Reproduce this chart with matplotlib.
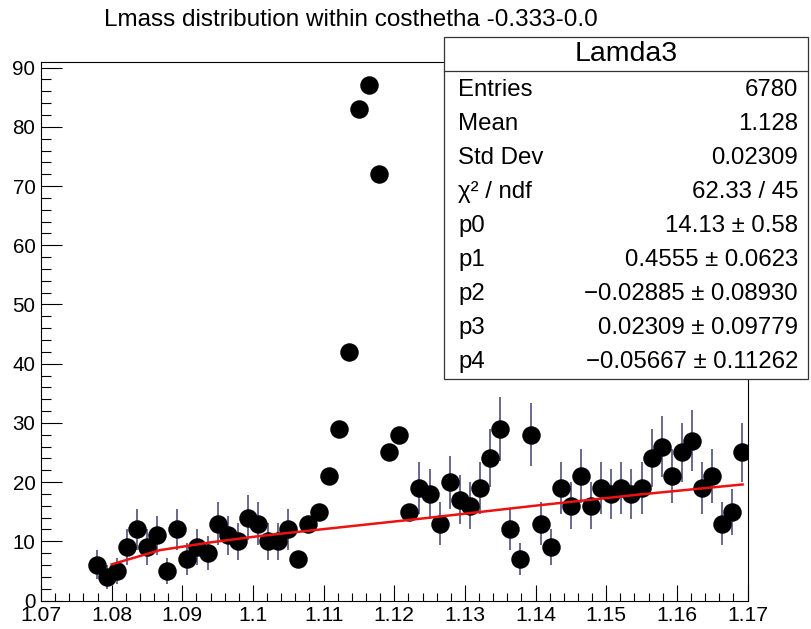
import matplotlib
matplotlib.use("Agg")
import matplotlib.pyplot as plt
import numpy as np
from matplotlib.patches import Rectangle
from matplotlib.ticker import FuncFormatter, MultipleLocator
from matplotlib.transforms import ScaledTranslation

# Histogram binning: 70 bins over the axis range, the first 5 bins are empty
X_LO = 1.07
X_HI = 1.17
N_BINS = 70
FIRST_FILLED_BIN = 5

# bin contents (bins 5..69)
COUNTS = [6, 4, 5, 9, 12, 9, 11, 5, 12, 7,
          9, 8, 13, 11, 10, 14, 13, 10, 10, 12,
          7, 13, 15, 21, 29, 42, 83, 87, 72, 25,
          28, 15, 19, 18, 13, 20, 17, 16, 19, 24,
          29, 12, 7, 28, 13, 9, 19, 16, 21, 16,
          19, 18, 19, 18, 19, 24, 26, 21, 25, 27,
          19, 21, 13, 15, 25]

# signal region left out of the fit, drawn without error bars
PEAK_WINDOW = (1.1058, 1.1228)

# background fit curve
FIT_X = [1.0800, 1.0868, 1.0939, 1.1010, 1.1080, 1.1236, 1.1406, 1.1547, 1.1693]
FIT_Y = [6.1, 8.5, 9.8, 10.9, 11.8, 13.8, 16.1, 17.9, 19.6]

TITLE = "Lmass distribution within costhetha -0.333-0.0"
STATS_NAME = "Lamda3"
STATS_LABELS = ["Entries", "Mean", "Std Dev", "χ² / ndf", "p0", "p1", "p2", "p3", "p4"]
STATS_VALUES = ["6780", "1.128", "0.02309", "62.33 / 45", "14.13 ± 0.58",
                "0.4555 ± 0.0623", "\u22120.02885 ± 0.08930",
                "0.02309 ± 0.09779", "\u22120.05667 ± 0.11262"]

Y_MAX = 91.0

plt.rcParams["font.family"] = ["Liberation Sans", "DejaVu Sans"]

W, H = 811, 629
fig = plt.figure(figsize=(W / 100, H / 100), dpi=100)
ax = fig.add_axes([41 / W, 1 - 600.5 / H, (747.5 - 41) / W, (600.5 - 61.7) / H])

width = (X_HI - X_LO) / N_BINS
counts = np.array(COUNTS, dtype=float)
centers = X_LO + (FIRST_FILLED_BIN + np.arange(len(counts)) + 0.5) * width
errors = np.sqrt(counts)
in_peak = (centers > PEAK_WINDOW[0]) & (centers < PEAK_WINDOW[1])
errors[in_peak] = 0.0

ax.errorbar(centers, counts, yerr=errors, fmt="none", ecolor="#50507e",
            elinewidth=1.2, capsize=0, zorder=2)
ax.plot(centers, counts, "o", color="black", markersize=12.3, zorder=3)
ax.plot(FIT_X, FIT_Y, color="#ee1111", linewidth=1.8, zorder=4)

ax.set_xlim(X_LO, X_HI)
ax.set_ylim(0, Y_MAX)

ax.xaxis.set_major_locator(MultipleLocator(0.01))
ax.xaxis.set_minor_locator(MultipleLocator(0.002))
ax.yaxis.set_major_locator(MultipleLocator(10))
ax.yaxis.set_minor_locator(MultipleLocator(2))
ax.xaxis.set_major_formatter(FuncFormatter(lambda v, p: "%g" % round(v, 4)))
ax.yaxis.set_major_formatter(FuncFormatter(lambda v, p: "%g" % v))

ax.tick_params(axis="x", which="major", direction="in", length=11.5, width=0.8,
               labelsize=15.2, pad=4, top=False)
ax.tick_params(axis="x", which="minor", direction="in", length=5.8, width=0.8, top=False)
ax.tick_params(axis="y", which="major", direction="in", length=14.8, width=0.8,
               labelsize=14.8, pad=4, right=False)
ax.tick_params(axis="y", which="minor", direction="in", length=7.4, width=0.8, right=False)
for s in ax.spines.values():
    s.set_linewidth(0.8)

# ROOT lifts the "0" label a little above the x labels
fig.canvas.draw()
zero_lbl = ax.yaxis.get_major_ticks()[0].label1
zero_lbl.set_transform(zero_lbl.get_transform() + ScaledTranslation(0, 0.04, fig.dpi_scale_trans))

fig.text(351 / W, 1 - 26 / H, TITLE, ha="center", va="baseline", fontsize=17.5)

# statistics box
bx0, bx1 = 444 / W, 808 / W
by_top, by_bot = 1 - 37 / H, 1 - 379 / H
fig.patches.append(Rectangle((bx0, by_bot), bx1 - bx0, by_top - by_bot,
                             transform=fig.transFigure, facecolor="white",
                             edgecolor="#333333", linewidth=0.9, zorder=5))
sep_y = 1 - 71 / H
fig.add_artist(plt.Line2D([bx0, bx1], [sep_y, sep_y], transform=fig.transFigure,
                          color="#333333", linewidth=0.9, zorder=6))
fig.text((bx0 + bx1) / 2, 1 - 54 / H, STATS_NAME, ha="center", va="center",
         fontsize=20.5, zorder=7)
for i, (lab, val) in enumerate(zip(STATS_LABELS, STATS_VALUES)):
    yy = 1 - (90 + 34 * i) / H
    fig.text(458 / W, yy, lab, ha="left", va="center", fontsize=17.3, zorder=7)
    fig.text(798 / W, yy, val, ha="right", va="center", fontsize=17.3, zorder=7)

fig.savefig("out.png", dpi=100)
